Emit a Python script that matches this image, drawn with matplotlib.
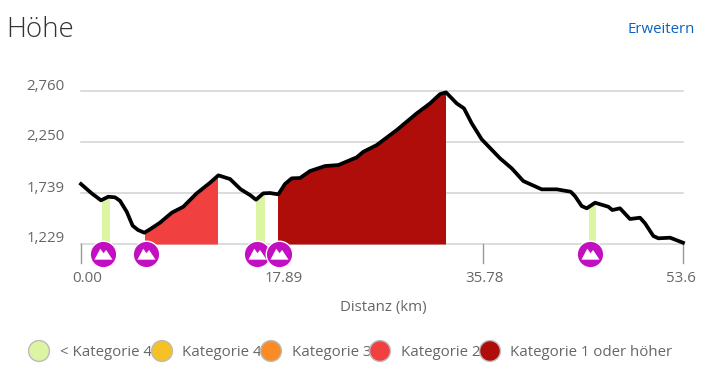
import matplotlib
matplotlib.use('Agg')
import matplotlib.pyplot as plt
from matplotlib.patches import Rectangle
from matplotlib.path import Path

plt.rcParams['font.family'] = ['Open Sans', 'DejaVu Sans']

distance_km = [0.0, 0.95, 1.78, 2.43, 3.03, 3.47, 4.07, 4.60, 5.08, 5.64, 6.14, 7.03, 8.08, 9.11, 10.30,
               11.49, 12.23, 13.27, 14.22, 15.05, 15.58, 16.23, 16.83, 17.57, 18.16, 18.76, 19.50, 20.39,
               21.73, 22.91, 24.55, 25.14, 26.33, 28.11, 29.89, 31.08, 31.97, 32.50, 33.45, 34.10, 34.79,
               35.68, 37.31, 38.35, 39.38, 41.02, 42.36, 43.60, 43.98, 44.58, 45.03, 45.77, 46.95, 47.31,
               47.99, 48.88, 49.77, 50.22, 50.96, 51.41, 52.45, 53.6]
elevation_m = [1829, 1736, 1666, 1702, 1696, 1662, 1552, 1412, 1369, 1342, 1376, 1442, 1542, 1602, 1736,
               1842, 1916, 1879, 1776, 1719, 1672, 1736, 1739, 1726, 1829, 1886, 1889, 1959,
               2009, 2019, 2096, 2152, 2219, 2369, 2536, 2636, 2729, 2746, 2636, 2586, 2436,
               2276, 2086, 1986, 1859, 1776, 1776, 1752, 1709, 1609, 1586, 1642, 1602, 1569,
               1586, 1479, 1492, 1436, 1309, 1286, 1292, 1242]

# climbs: start km, end km, colour
climb_start = [1.84, 5.74, 15.58, 17.54, 45.23]
climb_end = [2.52, 12.10, 16.32, 32.41, 45.80]
climb_color = ['#dbf5a2', '#f04040', '#dbf5a2', '#ae0d0a', '#dbf5a2']
summit_km = [1.93, 5.81, 15.64, 17.66, 45.32]

y_ticks = [1229, 1739, 2250, 2760]
y_labels = ['1,229', '1,739', '2,250', '2,760']
x_ticks = [0.0, 17.89, 35.78, 53.6]
x_labels = ['0.00', '17.89', '35.78', '53.6']
x_label_px = [87, 284, 484, 681]

legend_labels = ['< Kategorie 4', 'Kategorie 4', 'Kategorie 3', 'Kategorie 2', 'Kategorie 1 oder höher']
legend_colors = ['#dbf5a2', '#f5c226', '#fb8b24', '#f04040', '#ae0d0a']
legend_circle_px = [39, 162, 271, 380, 490]
legend_text_px = [60, 182, 292, 401, 510]

W, H = 706, 372
fig = plt.figure(figsize=(W / 100, H / 100), dpi=100)
ax = fig.add_axes([81 / W, 1 - 244 / H, (683 - 81) / W, 153 / H])
ax.set_xlim(0, 53.6)
ax.set_ylim(1229, 2760)
ax.patch.set_alpha(0)
for s in ax.spines.values():
    s.set_visible(False)
ax.set_xticks([])
ax.set_yticks([])

for v in y_ticks:
    ax.axhline(v, color='#d2d2d2', lw=1.1, zorder=1, clip_on=False)

for start, end, col in zip(climb_start, climb_end, climb_color):
    poly = ax.fill_between(distance_km, elevation_m, 1229, color=col, lw=0, zorder=2)
    poly.set_clip_path(Rectangle((start, 1229), end - start, 2760 - 1229, transform=ax.transData))

ax.plot(distance_km, elevation_m, color='black', lw=2.7, zorder=3, clip_on=False, solid_joinstyle='round')

for v in x_ticks:
    ax.plot([v, v], [0, -0.125], transform=ax.get_xaxis_transform(), color='#999999', lw=1.0,
            clip_on=False, zorder=1)

# summit badges sit just under the baseline
mountain = Path([(-7, -4), (-2.5, 4.5), (0, 1), (2, 3.5), (7, -4), (-7, -4)], closed=True)
badge_y = [-0.068] * len(summit_km)
ax.scatter(summit_km, badge_y, s=365, color='#c10fc1', edgecolor='white', linewidth=1.0,
           transform=ax.get_xaxis_transform(), clip_on=False, zorder=4)
ax.scatter(summit_km, badge_y, s=170, marker=mountain, color='white', linewidth=0,
           transform=ax.get_xaxis_transform(), clip_on=False, zorder=5)

# overlay in pixel coordinates for the text and the legend
top = fig.add_axes([0, 0, 1, 1])
top.set_xlim(0, W)
top.set_ylim(H, 0)
top.axis('off')
top.patch.set_alpha(0)

top.text(6, 30, 'Höhe', fontsize=20, color='#333333', va='center', ha='left', fontweight='light')
top.text(695, 29.5, 'Erweitern', fontsize=10.8, color='#0b62c0', va='center', ha='right')

for label, v in zip(y_labels, y_ticks):
    yp = 244 - (v - 1229) / (2760 - 1229) * 153
    top.text(64.5, yp - 5, label, fontsize=10.8, color='#666666', va='center', ha='right')
for label, xp in zip(x_labels, x_label_px):
    top.text(xp, 278.5, label, fontsize=10.8, color='#666666', va='center', ha='center')
top.text(383, 307.5, 'Distanz (km)', fontsize=10.8, color='#666666', va='center', ha='center')

top.scatter(legend_circle_px, [351] * 5, s=225, c=legend_colors, edgecolor='#bbbbbb', linewidth=1.0, zorder=3)
for label, xp in zip(legend_labels, legend_text_px):
    top.text(xp, 352.5, label, fontsize=10.8, color='#666666', va='center', ha='left', zorder=2)

fig.savefig('out.png', dpi=100)
